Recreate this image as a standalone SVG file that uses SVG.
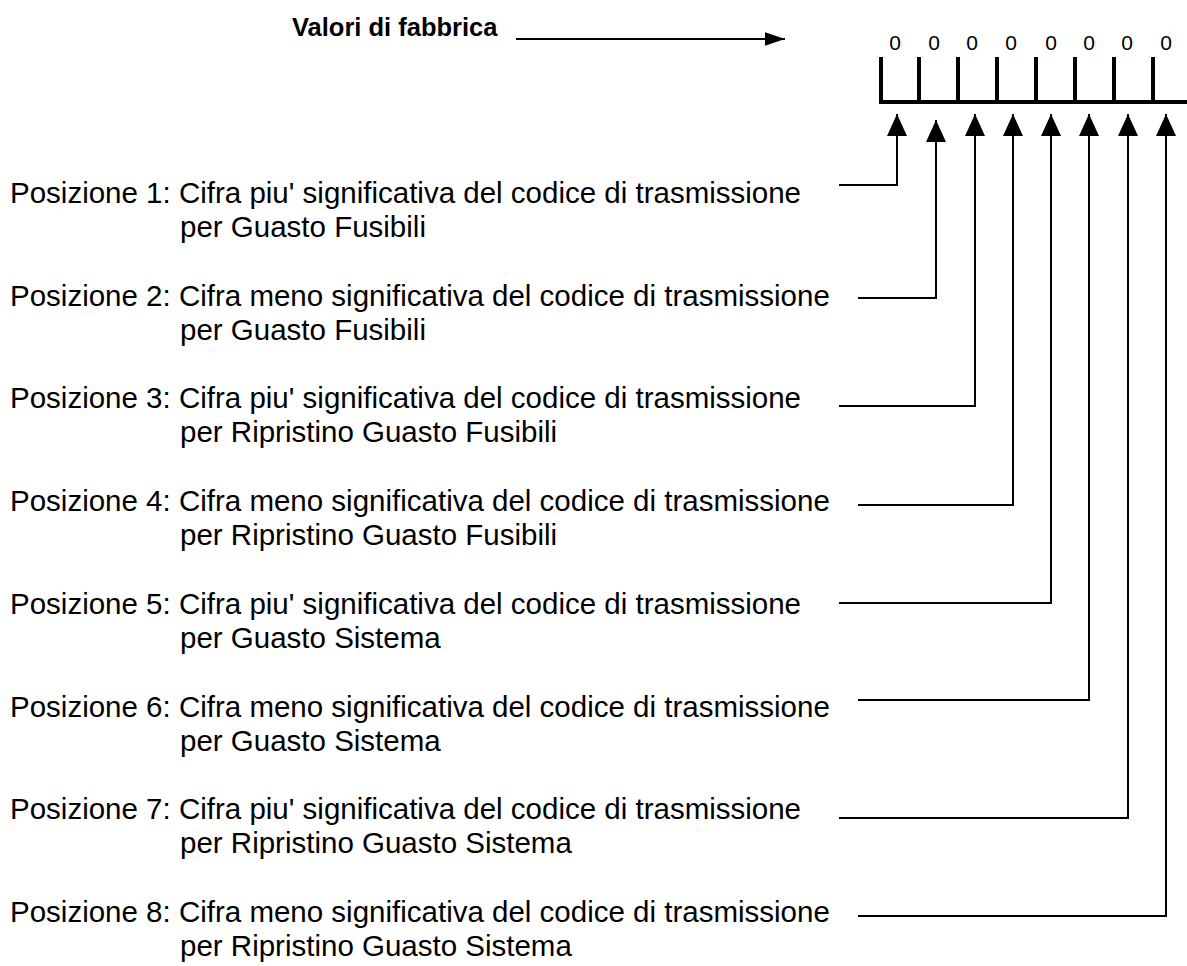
<svg xmlns="http://www.w3.org/2000/svg" width="1187" height="966" viewBox="0 0 1187 966">
  <style>
    .lbl { font-family: "Liberation Sans", Arial, sans-serif; font-size: 29.5px; fill: #000; }
    .title { font-family: "Liberation Sans", Arial, sans-serif; font-size: 25.5px; font-weight: bold; fill: #000; }
    .dig { font-family: "Liberation Sans", Arial, sans-serif; font-size: 21px; fill: #000; text-anchor: middle; }
    .conn { fill: none; stroke: #000; stroke-width: 2; }
    .bar { fill: none; stroke: #000; stroke-width: 4; }
  </style>
  <defs>
    <marker id="up" viewBox="0 0 22 20" refX="22" refY="10" markerWidth="22" markerHeight="20" markerUnits="userSpaceOnUse" orient="auto">
      <path d="M0,0 L22,10 L0,20 Z" fill="#000"/>
    </marker>
    <marker id="right" viewBox="0 0 20 13.4" refX="20" refY="6.7" markerWidth="20" markerHeight="13.4" markerUnits="userSpaceOnUse" orient="auto">
      <path d="M0,0 L20,6.7 L0,13.4 Z" fill="#000"/>
    </marker>
  </defs>
  <rect width="1187" height="966" fill="#fff"/>

  <g id="title">
    <text class="title" x="292" y="36">Valori di fabbrica</text>
  </g>

  <g id="register">
    <text class="dig" x="895" y="50">0</text>
    <text class="dig" x="934" y="50">0</text>
    <text class="dig" x="972" y="50">0</text>
    <text class="dig" x="1011" y="50">0</text>
    <text class="dig" x="1051" y="50">0</text>
    <text class="dig" x="1089" y="50">0</text>
    <text class="dig" x="1127" y="50">0</text>
    <text class="dig" x="1166" y="50">0</text>
    <path class="bar" d="M881,57 V102 M919,57 V102 M958,57 V102 M997,57 V102 M1036,57 V102 M1075,57 V102 M1114,57 V102 M1153,57 V102 M879,102 H1187"/>
  </g>

  <g id="pos1">
    <text class="lbl" x="10" y="203">Posizione 1: Cifra piu' significativa del codice di trasmissione</text>
    <text class="lbl" x="180" y="237">per Guasto Fusibili</text>
  </g>
  <g id="pos2">
    <text class="lbl" x="10" y="305.7">Posizione 2: Cifra meno significativa del codice di trasmissione</text>
    <text class="lbl" x="180" y="339.7">per Guasto Fusibili</text>
  </g>
  <g id="pos3">
    <text class="lbl" x="10" y="408.4">Posizione 3: Cifra piu' significativa del codice di trasmissione</text>
    <text class="lbl" x="180" y="442.4">per Ripristino Guasto Fusibili</text>
  </g>
  <g id="pos4">
    <text class="lbl" x="10" y="511.1">Posizione 4: Cifra meno significativa del codice di trasmissione</text>
    <text class="lbl" x="180" y="545.1">per Ripristino Guasto Fusibili</text>
  </g>
  <g id="pos5">
    <text class="lbl" x="10" y="613.8">Posizione 5: Cifra piu' significativa del codice di trasmissione</text>
    <text class="lbl" x="180" y="647.8">per Guasto Sistema</text>
  </g>
  <g id="pos6">
    <text class="lbl" x="10" y="716.5">Posizione 6: Cifra meno significativa del codice di trasmissione</text>
    <text class="lbl" x="180" y="750.5">per Guasto Sistema</text>
  </g>
  <g id="pos7">
    <text class="lbl" x="10" y="819.2">Posizione 7: Cifra piu' significativa del codice di trasmissione</text>
    <text class="lbl" x="180" y="853.2">per Ripristino Guasto Sistema</text>
  </g>
  <g id="pos8">
    <text class="lbl" x="10" y="922">Posizione 8: Cifra meno significativa del codice di trasmissione</text>
    <text class="lbl" x="180" y="956">per Ripristino Guasto Sistema</text>
  </g>

  <g id="connectors">
    <path class="conn" d="M516,39 H785" marker-end="url(#right)"/>
    <path class="conn" d="M839,185 H897 V114" marker-end="url(#up)"/>
    <path class="conn" d="M858,298 H936 V120" marker-end="url(#up)"/>
    <path class="conn" d="M839,406 H975 V114" marker-end="url(#up)"/>
    <path class="conn" d="M858,505 H1013 V114" marker-end="url(#up)"/>
    <path class="conn" d="M839,603 H1051 V114" marker-end="url(#up)"/>
    <path class="conn" d="M858,700 H1089 V114" marker-end="url(#up)"/>
    <path class="conn" d="M839,818 H1128 V114" marker-end="url(#up)"/>
    <path class="conn" d="M858,916 H1166 V114" marker-end="url(#up)"/>
  </g>
</svg>
